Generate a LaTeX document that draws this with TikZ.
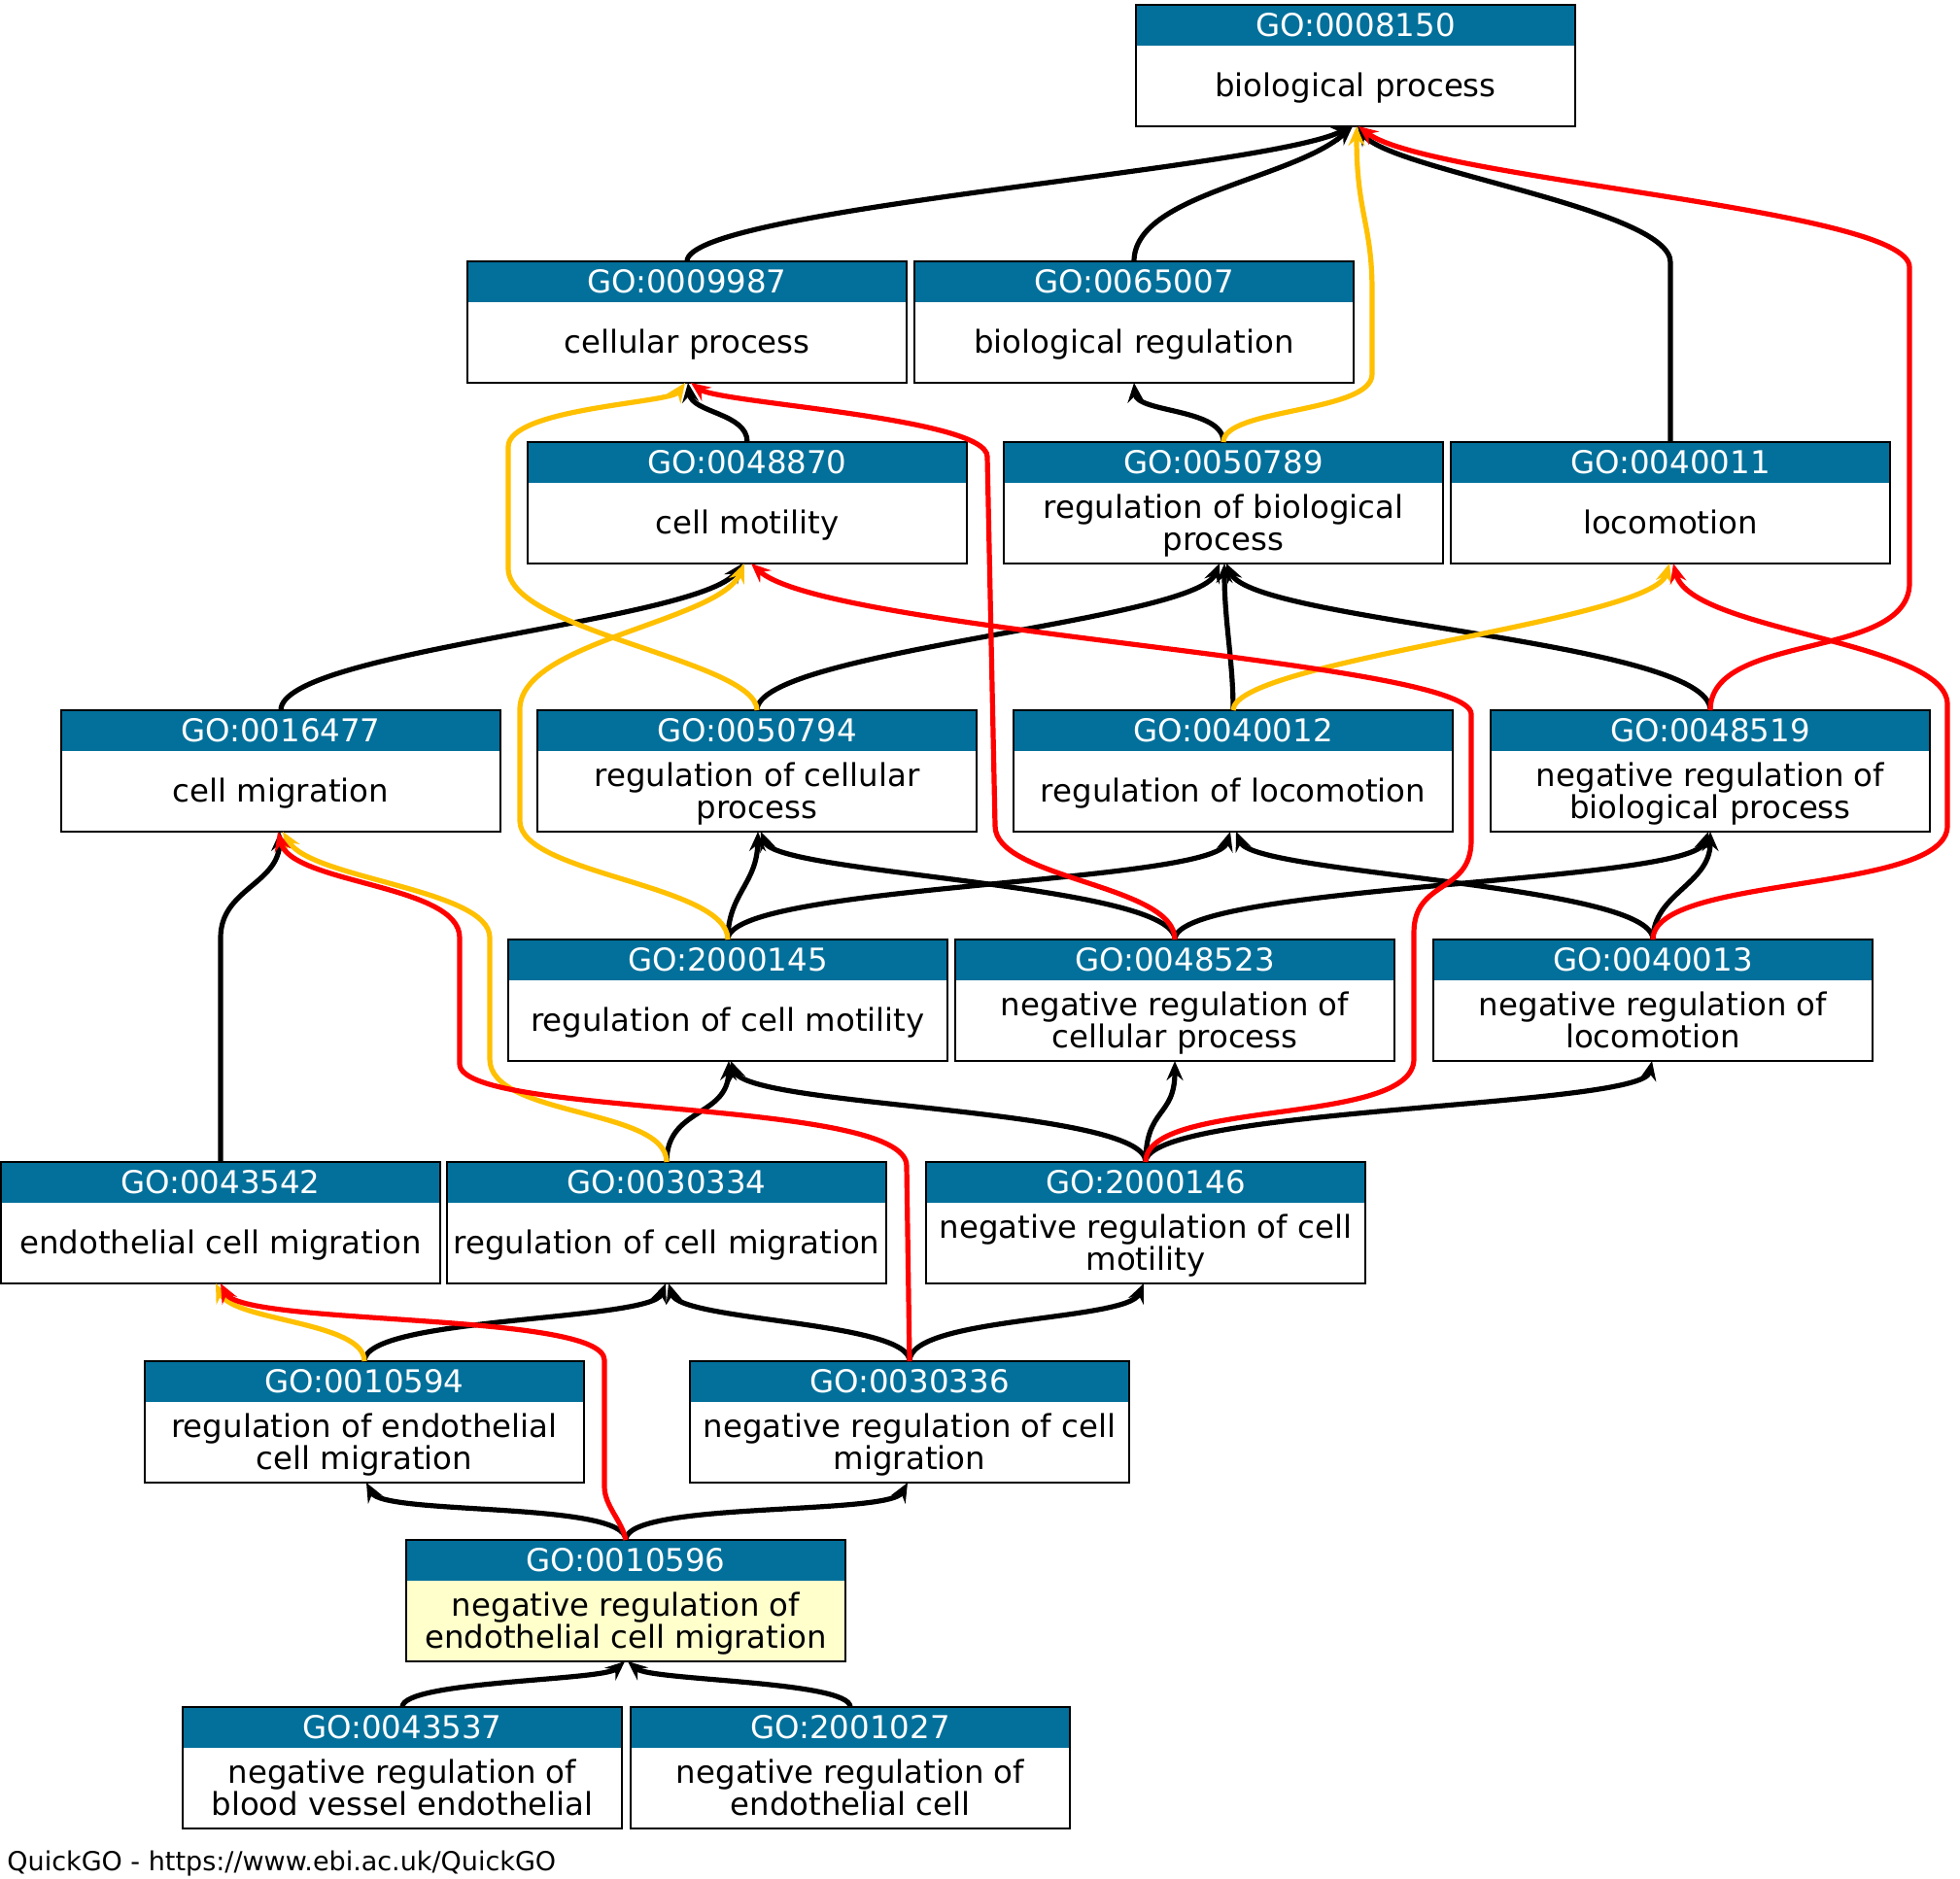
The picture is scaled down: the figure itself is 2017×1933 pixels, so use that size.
\documentclass[tikz,border=0pt]{standalone}
\usepackage{fontspec}
\setmainfont{DejaVu Sans}
\usetikzlibrary{arrows.meta}
\definecolor{goblue}{RGB}{2,112,155}
\definecolor{goyel}{RGB}{255,192,0}
\definecolor{gored}{RGB}{255,0,0}
\definecolor{gofill}{RGB}{255,255,204}
\setlength{\lineskiplimit}{-100pt}
\newcommand{\gostrut}{\rule[-4pt]{0pt}{19pt}}
\tikzset{
  gobox/.style={rectangle, minimum width=226pt, minimum height=62.5pt, inner sep=0pt, outer sep=0pt},
  boxline/.style={draw=black, line width=1.3pt},
  gotitle/.style={inner sep=0pt, text=white, font=\fontsize{16.2pt}{16.5pt}\selectfont},
  golabel/.style={inner sep=0pt, align=center, text=black, font=\fontsize{16.2pt}{16.5pt}\selectfont},
  edgebase/.style={line width=2.6pt, line join=round, -{Stealth[length=10pt,width=8.5pt,inset=3.5pt]}},
  isaedge/.style={edgebase, draw=black},
  regedge/.style={edgebase, draw=goyel},
  negedge/.style={edgebase, draw=gored},
}
\newcommand{\gonode}[6][white]{%
  \node[gobox, fill=#1] (#2) at (#3, #4+62.5) {};
  \fill[goblue] (#2.north west) rectangle ([yshift=-21pt]#2.north east);
  \draw[boxline] (#2.north west) rectangle (#2.south east);
  \node[gotitle] (#2t) at ([yshift=-10.5pt]#2.north) {\gostrut #5};
  \node[golabel] (#2l) at ([yshift=20.75pt]#2.south) {#6};
}
\begin{document}
\begin{tikzpicture}[x=0.5pt, y=-0.5pt]
\fill[white] (0,0) rectangle (2017,1933);
\useasboundingbox (0,0) rectangle (2017,1933);

\gonode{A}{1395}{5}{GO:0008150}{\gostrut biological process}
\gonode{B1}{707}{269}{GO:0009987}{\gostrut cellular process}
\gonode{B2}{1167}{269}{GO:0065007}{\gostrut biological regulation}
\gonode{C1}{769}{455}{GO:0048870}{\gostrut cell motility}
\gonode{C2}{1259}{455}{GO:0050789}{\gostrut regulation of biological\\\gostrut process}
\gonode{C3}{1719}{455}{GO:0040011}{\gostrut locomotion}
\gonode{D1}{289}{731}{GO:0016477}{\gostrut cell migration}
\gonode{D2}{779}{731}{GO:0050794}{\gostrut regulation of cellular\\\gostrut process}
\gonode{D3}{1269}{731}{GO:0040012}{\gostrut regulation of locomotion}
\gonode{D4}{1760}{731}{GO:0048519}{\gostrut negative regulation of\\\gostrut biological process}
\gonode{E1}{749}{967}{GO:2000145}{\gostrut regulation of cell motility}
\gonode{E2}{1209}{967}{GO:0048523}{\gostrut negative regulation of\\\gostrut cellular process}
\gonode{E3}{1701}{967}{GO:0040013}{\gostrut negative regulation of\\\gostrut locomotion}
\gonode{F1}{227}{1196}{GO:0043542}{\gostrut endothelial cell migration}
\gonode{F2}{686}{1196}{GO:0030334}{\gostrut regulation of cell migration}
\gonode{F3}{1179}{1196}{GO:2000146}{\gostrut negative regulation of cell\\\gostrut motility}
\gonode{G1}{375}{1401}{GO:0010594}{\gostrut regulation of endothelial\\\gostrut cell migration}
\gonode{G2}{936}{1401}{GO:0030336}{\gostrut negative regulation of cell\\\gostrut migration}
\gonode[gofill]{H}{644}{1585}{GO:0010596}{\gostrut negative regulation of\\\gostrut endothelial cell migration}
\gonode{I1}{414}{1757}{GO:0043537}{\gostrut negative regulation of\\\gostrut blood vessel endothelial}
\gonode{I2}{875}{1757}{GO:2001027}{\gostrut negative regulation of\\\gostrut endothelial cell}

\node[anchor=base west, inner sep=0pt, font=\fontsize{13.5pt}{16pt}\selectfont] (foot) at (7,1925) {QuickGO - https://www.ebi.ac.uk/QuickGO};

% is_a edges
\draw[isaedge] (B1.north) .. controls (707,215) and (1300,175) .. ([xshift=-2pt]A.south);
\draw[isaedge] (B2.north) .. controls (1167,200) and (1330,185) .. ([xshift=-1.5pt]A.south);
\draw[isaedge] (C1.north) .. controls (769,425) and (712,425) .. ([xshift=0.5pt]B1.south);
\draw[isaedge] (C2.north) .. controls (1259,420) and (1170,425) .. (B2.south);
\draw[isaedge] (C3.north) -- (1719,270) .. controls (1719,215) and (1430,175) .. ([xshift=1pt]A.south);
\draw[isaedge] (D1.north) .. controls (289,670) and (720,640) .. ([xshift=-2.5pt]C1.south);
\draw[isaedge] (D2.north) .. controls (779,670) and (1230,640) .. ([xshift=-2pt]C2.south);
\draw[isaedge] (D3.north) .. controls (1269,680) and (1260,640) .. ([xshift=0.5pt]C2.south);
\draw[isaedge] (D4.north) .. controls (1760,660) and (1290,640) .. ([xshift=1.5pt]C2.south);
\draw[isaedge] (E1.north) .. controls (749,920) and (779,910) .. ([xshift=0.5pt]D2.south);
\draw[isaedge] (E1.north) .. controls (749,910) and (1250,910) .. ([xshift=-1.5pt]D3.south);
\draw[isaedge] (E2.north) .. controls (1209,910) and (800,900) .. ([xshift=2pt]D2.south);
\draw[isaedge] (E2.north) .. controls (1209,910) and (1740,910) .. ([xshift=-1pt]D4.south);
\draw[isaedge] (E3.north) .. controls (1701,910) and (1290,900) .. ([xshift=1.5pt]D3.south);
\draw[isaedge] (E3.north) .. controls (1701,920) and (1760,910) .. (D4.south);
\draw[isaedge] (F1.north) -- (227,965) .. controls (227,915) and (287,910) .. ([xshift=-0.5pt]D1.south);
\draw[isaedge] (F2.north) .. controls (686,1140) and (749,1150) .. ([xshift=0.5pt]E1.south);
\draw[isaedge] (F3.north) .. controls (1179,1140) and (770,1140) .. ([xshift=1.5pt]E1.south);
\draw[isaedge] (F3.north) .. controls (1179,1140) and (1209,1150) .. (E2.south);
\draw[isaedge] (F3.north) .. controls (1179,1140) and (1690,1140) .. ([xshift=-0.5pt]E3.south);
\draw[isaedge] (G1.north) .. controls (375,1355) and (670,1360) .. ([xshift=-0.5pt]F2.south);
\draw[isaedge] (G2.north) .. controls (936,1360) and (700,1360) .. ([xshift=1pt]F2.south);
\draw[isaedge] (G2.north) .. controls (936,1355) and (1160,1360) .. ([xshift=-1pt]F3.south);
\draw[isaedge] (H.north) .. controls (644,1545) and (395,1560) .. ([xshift=1pt]G1.south);
\draw[isaedge] (H.north) .. controls (644,1545) and (915,1560) .. ([xshift=-1pt]G2.south);
\draw[isaedge] (I1.north) .. controls (414,1730) and (620,1730) .. ([xshift=-0.5pt]H.south);
\draw[isaedge] (I2.north) .. controls (875,1730) and (670,1730) .. ([xshift=1pt]H.south);

% regulates edges
\draw[regedge] (C2.north) .. controls (1259,420) and (1412,425) .. (1412,385) -- (1412,300) .. controls (1412,230) and (1396,220) .. ([xshift=0.5pt]A.south);
\draw[regedge] (D2.north) .. controls (779,680) and (523,650) .. (523,585) -- (523,460) .. controls (523,420) and (690,415) .. ([xshift=-1pt]B1.south);
\draw[regedge] (D3.north) .. controls (1269,680) and (1700,640) .. ([xshift=-0.5pt]C3.south);
\draw[regedge] (E1.north) .. controls (749,910) and (535,900) .. (535,845) -- (535,730) .. controls (535,660) and (740,640) .. ([xshift=-1.5pt]C1.south);
\draw[regedge] (F2.north) .. controls (686,1140) and (504,1150) .. (504,1090) -- (504,965) .. controls (504,915) and (320,905) .. ([xshift=1pt]D1.south);
\draw[regedge] (G1.north) .. controls (375,1360) and (240,1360) .. ([xshift=-2.5pt]F1.south);

% negatively regulates edges
\draw[negedge] (D4.north) .. controls (1760,650) and (1965,680) .. (1965,600) -- (1965,275) .. controls (1965,215) and (1470,185) .. ([xshift=1.5pt]A.south);
\draw[negedge] (E2.north) .. controls (1209,910) and (1024,905) .. (1024,850) -- (1016,470) .. controls (1016,430) and (740,415) .. ([xshift=2pt]B1.south);
\draw[negedge] (E3.north) .. controls (1701,900) and (2004,920) .. (2004,850) -- (2004,725) .. controls (2004,660) and (1740,650) .. ([xshift=1.5pt]C3.south);
\draw[negedge] (F3.north) .. controls (1179,1130) and (1455,1160) .. (1455,1090) -- (1455,960) .. controls (1455,905) and (1514,920) .. (1514,865) -- (1514,735) .. controls (1514,680) and (850,650) .. ([xshift=2pt]C1.south);
\draw[negedge] (G2.north) -- (933,1200) .. controls (933,1130) and (473,1150) .. (473,1095) -- (473,965) .. controls (473,910) and (300,910) .. ([xshift=-1.5pt]D1.south);
\draw[negedge] (H.north) .. controls (640,1565) and (622,1550) .. (622,1530) -- (622,1400) .. controls (622,1350) and (250,1365) .. (F1.south);
\end{tikzpicture}
\end{document}
